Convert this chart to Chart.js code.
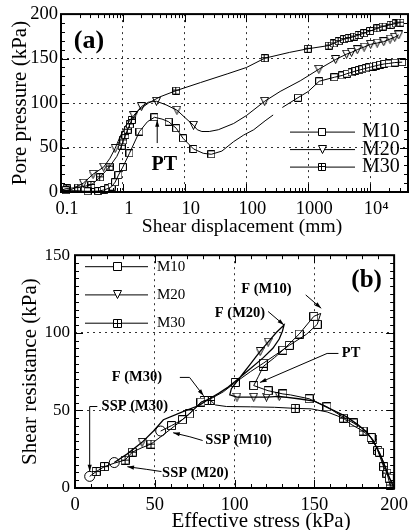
<!DOCTYPE html>
<html>
<head>
<meta charset="utf-8">
<script src="https://cdn.jsdelivr.net/npm/chart.js@4.4.1/dist/chart.umd.min.js"></script>
<style>
  html, body { margin: 0; padding: 0; background: #fff; }
  #wrap { position: relative; width: 414px; height: 530px; }
  #boxA { position: absolute; left: 0; top: 0; }
  #boxB { position: absolute; left: 0; top: 240px; }
</style>
</head>
<body>
<div id="wrap">
  <div id="boxA"><canvas id="chartA" width="414" height="240"></canvas></div>
  <div id="boxB"><canvas id="chartB" width="414" height="290"></canvas></div>
</div>
<script>
// ========== DATOS (a): presión de poros vs desplazamiento ==========
const xTicksA = [0.1, 1, 10, 100, 1000, 10000];
const xTickLabelsA = ['0.1', '1', '10', '100', '1000', '10⁴'];
const yTicksA = [0, 50, 100, 150, 200];

const m10LineA = [[0.1,2],[0.15,1.5],[0.2,1],[0.27,0.8],[0.4,1],[0.49,2.2],[0.58,4],[0.66,6],[0.75,11],[0.85,19],[1.0,28],
  [1.28,43.5],[1.86,68],[2.5,79],[3.25,84],[4.3,82],[5.5,79],[7.3,71.7],[9.4,60.4],[13.9,48.4],[20,43.5],[27,42.4],
  [40,46],[62,56.6],[90,64],[131,70],[200,80],[270,86.6],[320,null],[380,95],[680,106],[1000,113],[1500,124.5],
  [2640,129],[3530,131],[4200,133],[5000,134.5],[5800,136],[6600,137],[7500,138],[8500,139],[9600,140],[11000,141],
  [12500,142],[14500,143],[17000,144],[20000,144.5],[25000,145.5],[33000,146]];
const m10MarksA = [[0.12,2],[0.27,0.8],[0.4,1],[0.49,2.2],[0.58,4],[0.66,6],[0.75,11],[0.85,19],[1.0,28],[1.28,43.5],
  [1.86,68],[3.25,84],[5.5,79],[7.3,71.7],[9.4,60.4],[13.9,48.4],[27,42.4],[680,106],[1500,124.5],[2640,129],[3530,131],
  [4200,133],[5000,134.5],[5800,136],[6600,137],[7500,138],[8500,139],[9600,140],[11000,141],[12500,142],[14500,143],
  [17000,144],[20000,144.5],[25000,145.5],[33000,146]];

const m20LineA = [[0.1,1],[0.15,3],[0.23,10],[0.33,20],[0.49,28],[0.62,38],[0.75,49],[0.9,62],[1.1,74],[1.5,86],[2.0,96],
  [2.6,101],[3.5,102],[5,98],[7.5,92],[10,84],[13.9,75],[16,70],[19,68],[25,68],[35,70],[62,77],[100,86],[197,102],
  [350,113],[740,125],[1480,138],[2770,149],[4160,155],[5000,157],[6200,160],[8000,163],[10200,166],[13000,167.5],
  [16600,169],[21000,172],[25000,174],[29000,176.6]];
const m20MarksA = [[0.23,10],[0.33,20],[0.49,28],[0.75,49],[1.5,86],[2.0,96],[3.5,102],[7.5,92],[13.9,75],[197,102],
  [1480,138],[2770,149],[4160,155],[5000,157],[6200,160],[8000,163],[10200,166],[13000,167.5],[16600,169],[21000,172],
  [25000,174],[29000,176.6]];

const m30LineA = [[0.1,2],[0.124,4],[0.19,5],[0.31,8],[0.43,16.5],[0.61,28.5],[0.8,40],[0.96,52],[1.02,58],[1.1,64],
  [1.2,70],[1.3,76],[1.4,81],[1.8,92],[2.6,100],[4,107],[7.3,114],[18,123],[50,133],[100,140],[197,150.4],[500,157],
  [980,161],[2140,164.6],[2570,167],[3100,169.5],[3760,171.8],[4500,173],[5500,174.7],[6500,176.5],[8000,178.5],
  [10000,181],[13100,184],[16000,186],[21400,188],[26000,189.5],[31000,190.4]];
const m30MarksA = [[0.124,4],[0.19,5],[0.31,8],[0.43,16.5],[0.61,28.5],[0.96,52],[1.02,58],[1.1,64],[1.2,70],[1.3,76],
  [1.4,81],[7.3,114],[197,150.4],[980,161],[2140,164.6],[2570,167],[3100,169.5],[3760,171.8],[4500,173],[5500,174.7],
  [6500,176.5],[8000,178.5],[10000,181],[13100,184],[16000,186],[21400,188],[26000,189.5],[31000,190.4]];

// ========== DATOS (b): trayectorias de esfuerzos ==========
const xTicksB = [0, 50, 100, 150, 200];
const yTicksB = [0, 50, 100, 150];

const m10PathB = [[200,0],[197,6.4],[194,15],[190.8,23.1],[185.6,32.5],[180,38.5],[174.4,41.9],[166,47],[157.9,52.3],
  [146.7,57.5],[135,60],[130.3,60.6],[121,62.7],[112,66],[115,72],[118,78.3],[125,84],[130.3,88.8],[140.5,99.2],
  [149.7,110.6],[154,112.5],[151.8,105.4],[145,99],[134.3,91.9],[126,86],[118,80.4],[110,75],[100.5,68],[93,62],
  [86,58],[78.9,55.4],[71.8,47.7],[67.3,44],[60.5,40.2],[53.7,36.7]];
const m10MarksB = [[197,6.4],[190.8,23.1],[185.6,32.5],[174.4,41.9],[157.9,52.3],[146.7,57.5],[130.3,60.6],[121,62.7],
  [112,66],[118,78.3],[130.3,88.8],[140.5,99.2],[149.7,110.6],[151.8,105.4],[134.3,91.9],[118,80.4],[100.5,68],
  [78.9,55.4],[71.8,47.7],[67.3,44],[60.5,40.2]];

const m20PathB = [[200,0],[196.5,8],[193,17],[190,24],[187,30],[183,36],[177,41],[170,46],[160,51],[150,56],[140,57.5],
  [128,59],[120,58.6],[112,58.5],[101.5,58.6],[97,60],[98,64],[104,72],[110,80],[116,88],[121,94],[126,100],[131,105],
  [130,101],[128,96],[124,90],[118,84],[110,77],[102,70],[96,65],[90,61],[85,58],[78,53.3],[67.7,49.2],[55.4,44],
  [49.2,36.7],[42,29.4],[32.8,22],[24.6,16.4]];
const m20MarksB = [[101.5,58.6],[112,58.5],[120,58.6],[128,59],[116,88],[121,94],[42,29.4]];

const m30PathB = [[200,0],[197.5,1.9],[195.5,9.6],[193.4,13.75],[189.7,24.2],[186.6,31.4],[180.5,36.7],[173,41],
  [168.2,45],[158,49],[148,51],[138,51.3],[125,52],[110,52.3],[95,52.5],[88,53.5],[85,56.4],[81,56.4],[75,51],
  [70,46.5],[65,42],[60,38],[55,34],[47.6,28.3],[42,26],[35.9,23.1],[31.4,18],[24.6,16],[18.5,13.8],[13.3,10.6],[9.2,7.5]];
const m30MarksB = [[197.5,1.9],[195.5,9.6],[193.4,13.75],[189.7,24.2],[186.6,31.4],[180.5,36.7],[168.2,45],[138,51.3],
  [85,56.4],[81,56.4],[47.6,28.3],[35.9,23.1],[31.4,18],[18.5,13.8],[13.3,10.6]];

const sspPointsB = [[9.2,7.5],[24.6,16.4],[53.7,36.7]];
const seriesNames = ['M10', 'M20', 'M30'];

// ========== ESTILOS ==========
const serif = 'Liberation Serif';

function makeMarker(kind, s) {
  const c = document.createElement('canvas');
  c.width = s + 1;
  c.height = s + 1;
  const g = c.getContext('2d');
  g.fillStyle = '#fff';
  g.strokeStyle = '#000';
  g.lineWidth = 1;
  g.beginPath();
  if (kind === 'tri') {
    g.moveTo(0.5, 0.5); g.lineTo(s + 0.5, 0.5); g.lineTo(s / 2 + 0.5, s + 0.5); g.closePath();
  } else {
    g.rect(0.5, 0.5, s, s);
  }
  g.fill();
  g.stroke();
  if (kind === 'plus') {
    const m = Math.floor(s / 2) + 0.5;
    g.beginPath();
    g.moveTo(m, 0.5); g.lineTo(m, s + 0.5);
    g.moveTo(0.5, m); g.lineTo(s + 0.5, m);
    g.stroke();
  }
  return c;
}

const markersA = [makeMarker('sq', 7), makeMarker('tri', 8), makeMarker('plus', 7)];
const markersB = [makeMarker('sq', 8), makeMarker('tri', 8), makeMarker('plus', 8)];

function lineSet(data, width) {
  return { data, showLine: true, borderColor: '#000', borderWidth: width, pointRadius: 0, fill: false, tension: 0 };
}
function markSet(data, marker) {
  return { data, showLine: false, pointStyle: marker, pointRadius: 4, clip: false };
}

// ========== DECORACION: marco, ticks internos, textos ==========
function innerTicks(chart, xMajor, xMinor, yMajor, yMinor) {
  const { ctx, chartArea: a, scales: { x, y } } = chart;
  ctx.save();
  ctx.strokeStyle = '#000';
  ctx.lineWidth = 1;
  ctx.beginPath();
  const vTick = (v, len) => {
    const p = Math.round(x.getPixelForValue(v)) + 0.5;
    ctx.moveTo(p, a.bottom); ctx.lineTo(p, a.bottom - len);
    ctx.moveTo(p, a.top); ctx.lineTo(p, a.top + len);
  };
  const hTick = (v, len) => {
    const p = Math.round(y.getPixelForValue(v)) + 0.5;
    ctx.moveTo(a.left, p); ctx.lineTo(a.left + len, p);
    ctx.moveTo(a.right, p); ctx.lineTo(a.right - len, p);
  };
  xMajor.forEach(v => vTick(v, 8));
  xMinor.forEach(v => vTick(v, 4));
  yMajor.forEach(v => hTick(v, 8));
  yMinor.forEach(v => hTick(v, 4));
  ctx.stroke();
  ctx.lineWidth = 2;
  ctx.strokeRect(a.left, a.top, a.right - a.left, a.bottom - a.top);
  ctx.restore();
}

function arrow(ctx, pts, head) {
  ctx.beginPath();
  ctx.moveTo(pts[0][0], pts[0][1]);
  pts.slice(1).forEach(p => ctx.lineTo(p[0], p[1]));
  ctx.stroke();
  const [x1, y1] = pts[pts.length - 2];
  const [x2, y2] = pts[pts.length - 1];
  const ang = Math.atan2(y2 - y1, x2 - x1);
  ctx.beginPath();
  ctx.moveTo(x2, y2);
  ctx.lineTo(x2 - head * Math.cos(ang - 0.3), y2 - head * Math.sin(ang - 0.3));
  ctx.lineTo(x2 - head * Math.cos(ang + 0.3), y2 - head * Math.sin(ang + 0.3));
  ctx.closePath();
  ctx.fill();
}

function text(ctx, str, x, y, font, align) {
  ctx.font = font;
  ctx.textAlign = align || 'center';
  ctx.textBaseline = 'middle';
  ctx.fillText(str, x, y);
}

function legend(ctx, markers, x0, x1, xm, xt, rows, font) {
  rows.forEach((yy, i) => {
    ctx.beginPath();
    ctx.moveTo(x0, yy); ctx.lineTo(x1, yy);
    ctx.stroke();
    const m = markers[i];
    ctx.drawImage(m, Math.round(xm - m.width / 2), Math.round(yy - m.height / 2));
    text(ctx, seriesNames[i], xt, yy, font, 'left');
  });
}

const minorLog = [];
xTicksA.forEach(d => { for (let k = 2; k <= 9; k++) if (k * d < 41000) minorLog.push(k * d); });
const range = (a, b, s) => { const r = []; for (let v = a; v <= b; v += s) r.push(v); return r; };

const decorA = {
  id: 'decorA',
  afterDraw(chart) {
    const { ctx, chartArea: a, scales: { x, y } } = chart;
    innerTicks(chart, xTicksA, minorLog, yTicksA, range(0, 200, 10));
    ctx.save();
    ctx.fillStyle = '#000';
    ctx.strokeStyle = '#000';
    ctx.lineWidth = 1;
    text(ctx, '(a)', a.left + 28, a.top + 27, 'bold 26px ' + serif);
    // PT
    text(ctx, 'PT', x.getPixelForValue(4.7), y.getPixelForValue(30), 'bold 20px ' + serif);
    arrow(ctx, [[x.getPixelForValue(3.6), y.getPixelForValue(55)], [x.getPixelForValue(3.6), y.getPixelForValue(81)]], 7);
    legend(ctx, markersA, a.right - 118, a.right - 53, a.right - 86, a.right - 46,
      [a.top + 118, a.top + 135.5, a.top + 153], '20px ' + serif);
    text(ctx, 'Shear displacement (mm)', (a.left + a.right) / 2 + 7.5, a.bottom + 35, '19.5px ' + serif);
    ctx.restore();
  }
};

const notesB = [
  { t: 'F (M10)', at: [120, 128], path: [[144.6, 124.4], [154.3, 115.8]] },
  { t: 'F (M20)', at: [103.4, 112.5], path: [[121, 113.75], [131, 105]] },
  { t: 'PT', at: [173, 86.9], path: [[165.1, 86.7], [158, 86.7], [115.9, 68]] },
  { t: 'F (M30)', at: [38.8, 71.25], path: [[65.7, 71.25], [71.8, 71.25], [80.6, 59.4]] },
  { t: 'SSP (M30)', at: [37.5, 52.5], path: [[14, 52.5], [9.2, 52.5], [9.2, 10.6]] },
  { t: 'SSP (M10)', at: [102.5, 30.6], path: [[80, 30.6], [72, 33], [61.5, 35.6]] },
  { t: 'SSP (M20)', at: [75.4, 9.4], path: [[54.2, 10.6], [45, 12], [32.8, 13.75]] }
];

const decorB = {
  id: 'decorB',
  afterDraw(chart) {
    const { ctx, chartArea: a, scales: { x, y } } = chart;
    innerTicks(chart, xTicksB, range(0, 200, 10), yTicksB, range(0, 150, 5));
    ctx.save();
    ctx.fillStyle = '#000';
    ctx.strokeStyle = '#000';
    ctx.lineWidth = 1;
    text(ctx, '(b)', a.right - 27.5, a.top + 25, 'bold 25px ' + serif);
    notesB.forEach(n => {
      text(ctx, n.t, x.getPixelForValue(n.at[0]), y.getPixelForValue(n.at[1]), 'bold 14.5px ' + serif);
      arrow(ctx, n.path.map(p => [x.getPixelForValue(p[0]), y.getPixelForValue(p[1])]), 7);
    });
    legend(ctx, markersB, a.left + 10, a.left + 73, a.left + 42, a.left + 82,
      [a.top + 11.5, a.top + 39.7, a.top + 68], '15px ' + serif);
    text(ctx, 'Effective stress (kPa)', (a.left + a.right) / 2 + 26.5, a.bottom + 33.5, '21px ' + serif);
    ctx.restore();
  }
};

function axisCommon(ticksArr, size, pad) {
  return {
    afterBuildTicks: s => { s.ticks = ticksArr.map(v => ({ value: v })); },
    ticks: { font: { family: serif, size: size }, color: '#000', padding: pad, maxRotation: 0, autoSkip: false },
    grid: { color: 'rgba(0,0,0,0.8)', lineWidth: 1, drawTicks: false },
    border: { display: false, dash: [2, 4] }
  };
}

// ========== GRAFICA (a) ==========
const xA = axisCommon(xTicksA, 18.5, 6);
xA.type = 'logarithmic';
xA.min = 0.1;
xA.max = 41000;
xA.afterFit = s => { s.height = 48; };
xA.ticks.labelOffset = 6;
xA.ticks.callback = v => xTickLabelsA[xTicksA.indexOf(v)];

const yA = axisCommon(yTicksA, 18.5, 3);
yA.min = 0;
yA.max = 200;
yA.afterFit = s => { s.width = 61; };
yA.title = { display: true, text: 'Pore pressure (kPa)', font: { family: serif, size: 21 }, color: '#000', padding: { top: 8, bottom: 0 } };

new Chart(document.getElementById('chartA'), {
  type: 'scatter',
  data: {
    datasets: [
      lineSet(m10LineA, 1), lineSet(m20LineA, 1), lineSet(m30LineA, 1),
      markSet(m10MarksA, markersA[0]), markSet(m20MarksA, markersA[1]), markSet(m30MarksA, markersA[2])
    ]
  },
  options: {
    responsive: false,
    animation: false,
    events: [],
    layout: { padding: { top: 13, right: 6, left: 0, bottom: 0 } },
    plugins: { legend: { display: false }, tooltip: { enabled: false } },
    scales: { x: xA, y: yA }
  },
  plugins: [decorA]
});

// ========== GRAFICA (b) ==========
const xB = axisCommon(xTicksB, 18.5, 6);
xB.min = 0;
xB.max = 200;
xB.afterFit = s => { s.height = 42; };

const yB = axisCommon(yTicksB, 17, 5);
yB.min = 0;
yB.max = 150;
yB.afterFit = s => { s.width = 75; };
yB.title = { display: true, text: 'Shear resistance (kPa)', font: { family: serif, size: 21 }, color: '#000', padding: { top: 18, bottom: 0 } };

new Chart(document.getElementById('chartB'), {
  type: 'scatter',
  data: {
    datasets: [
      lineSet(m10PathB, 1), lineSet(m20PathB, 1.3), lineSet(m30PathB, 1),
      markSet(m10MarksB, markersB[0]), markSet(m20MarksB, markersB[1]), markSet(m30MarksB, markersB[2]),
      { data: sspPointsB, showLine: false, pointStyle: 'circle', pointRadius: 5, pointBackgroundColor: '#fff',
        pointBorderColor: '#000', pointBorderWidth: 1, clip: false }
    ]
  },
  options: {
    responsive: false,
    animation: false,
    events: [],
    layout: { padding: { top: 7, right: 14, left: 0, bottom: 0 } },
    plugins: { legend: { display: false }, tooltip: { enabled: false } },
    scales: { x: xB, y: yB }
  },
  plugins: [decorB]
});
</script>
</body>
</html>
